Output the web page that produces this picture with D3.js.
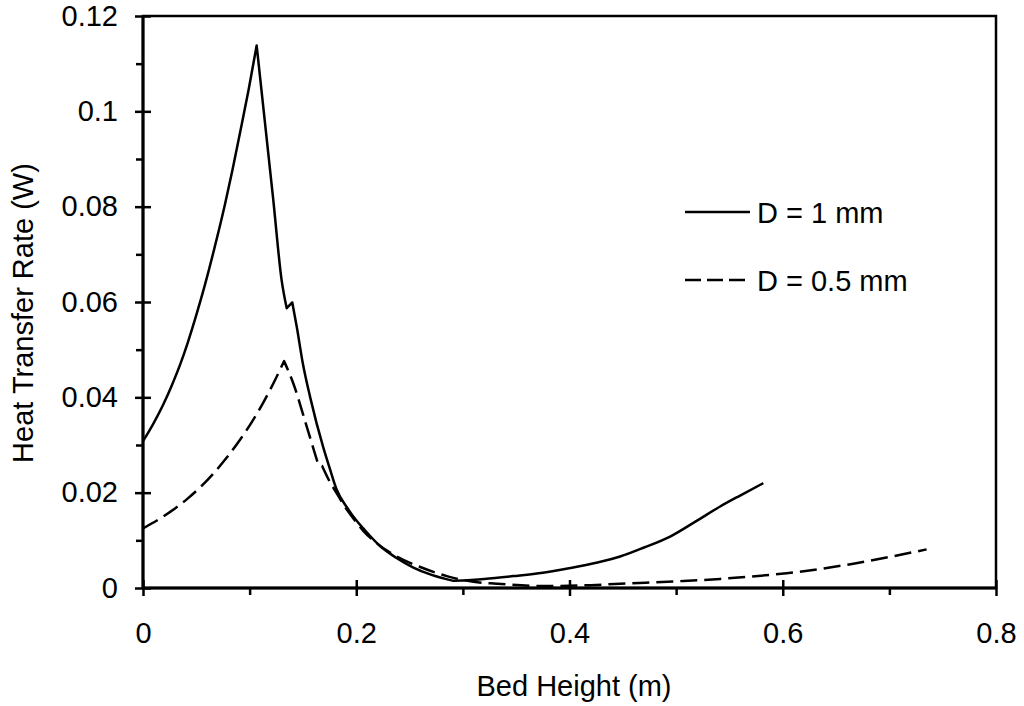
<!DOCTYPE html>
<html>
<head>
<meta charset="utf-8">
<script src="https://cdn.jsdelivr.net/npm/d3@7"></script>
<style>
  body { margin: 0; background: #fff; }
  svg { display: block; font-family: "Liberation Sans", Arial, sans-serif; }
  .axis text { font-size: 29px; fill: #000; }
  .axis line { stroke: #000; stroke-width: 2.5px; }
  .axis-title, .legend text { font-size: 29px; fill: #000; }
</style>
</head>
<body>
<svg id="chart"></svg>
<script>
// D = 1 mm curve
const bedHeight1 = [0, 0.01, 0.019, 0.027, 0.0347, 0.042, 0.0503, 0.0582, 0.067, 0.0769, 0.084, 0.091, 0.099, 0.1066,
  0.1222, 0.130, 0.1348, 0.140, 0.1442, 0.150, 0.1567, 0.1692, 0.175, 0.1817, 0.191, 0.2, 0.2066, 0.2223, 0.237,
  0.2536, 0.27, 0.2911, 0.32, 0.3474, 0.375, 0.4006, 0.425, 0.4475, 0.47, 0.4944, 0.52, 0.5413, 0.56, 0.5818];
const heatRate1 = [0.0308, 0.0346, 0.0385, 0.0425, 0.0468, 0.0515, 0.0575, 0.0637, 0.0713, 0.0805, 0.0878, 0.0955, 0.1045, 0.1138,
  0.0814, 0.0646, 0.0587, 0.0599, 0.0548, 0.0470, 0.0401, 0.0294, 0.0252, 0.0206, 0.0170, 0.0142, 0.0125, 0.0088, 0.0064,
  0.0043, 0.0028, 0.0015, 0.0019, 0.0025, 0.0032, 0.0042, 0.0053, 0.0066, 0.0085, 0.0108, 0.0142, 0.0171, 0.0194, 0.0220];
// bed heights where the D = 1 mm curve has a corner
const corners1 = [0.1066, 0.1348, 0.140, 0.2911];

// D = 0.5 mm curve
const bedHeight05 = [0, 0.019, 0.03, 0.041, 0.054, 0.066, 0.078, 0.091, 0.102, 0.1128, 0.122, 0.1323, 0.141, 0.1535,
  0.1645, 0.168, 0.1754, 0.18, 0.191, 0.2, 0.2066, 0.2192, 0.238, 0.26, 0.2849, 0.31, 0.3318, 0.3787, 0.42, 0.4475,
  0.5, 0.5413, 0.57, 0.6036, 0.635, 0.6662, 0.70, 0.7349];
const heatRate05 = [0.0125, 0.0150, 0.0167, 0.0186, 0.0212, 0.0240, 0.0272, 0.0311, 0.0348, 0.0389, 0.0428, 0.0476, 0.0429, 0.0339,
  0.0258, 0.0256, 0.0222, 0.0205, 0.0165, 0.0138, 0.0120, 0.0094, 0.0066, 0.0044, 0.0025, 0.0013, 0.0009, 0.0004, 0.0006, 0.0009,
  0.0014, 0.0019, 0.0024, 0.0031, 0.0040, 0.0051, 0.0065, 0.0081];
const corners05 = [0.1323, 0.1645, 0.168];

const seriesNames = ['D = 1 mm', 'D = 0.5 mm'];
const xTicks = [0, 0.2, 0.4, 0.6, 0.8];
const xMinorTicks = [0.1, 0.3, 0.5, 0.7];
const yTicks = [0, 0.02, 0.04, 0.06, 0.08, 0.1, 0.12];
const yMinorTicks = [0.01, 0.03, 0.05, 0.07, 0.09, 0.11];

const margin = { top: 16, right: 28, bottom: 118, left: 143 };
const containerWidth = 1024, containerHeight = 706;
const width = containerWidth - margin.left - margin.right;
const height = containerHeight - margin.top - margin.bottom;

const svg = d3.select('#chart')
  .attr('width', containerWidth)
  .attr('height', containerHeight);

const chart = svg.append('g')
  .attr('transform', `translate(${margin.left},${margin.top})`);

const xScale = d3.scaleLinear().domain([0, 0.8]).range([0, width]);
const yScale = d3.scaleLinear().domain([0, 0.12]).range([height, 0]);

// y axis: major ticks cross the axis, minor ticks outside only
chart.append('g').attr('class', 'axis')
  .call(d3.axisLeft(yScale).tickValues(yTicks).tickSize(8).tickPadding(17).tickFormat(d => d3.format('~g')(d)))
  .call(g => g.select('.domain').remove());
chart.append('g').attr('class', 'axis')
  .call(d3.axisRight(yScale).tickValues(yTicks).tickSize(8).tickFormat(''))
  .call(g => g.select('.domain').remove());
chart.append('g').attr('class', 'axis')
  .call(d3.axisLeft(yScale).tickValues(yMinorTicks).tickSize(7).tickFormat(''))
  .call(g => g.select('.domain').remove());

// x axis
chart.append('g').attr('class', 'axis')
  .attr('transform', `translate(0,${height})`)
  .call(d3.axisBottom(xScale).tickValues(xTicks).tickSize(8).tickPadding(26).tickFormat(d => d3.format('~g')(d)))
  .call(g => g.select('.domain').remove());
chart.append('g').attr('class', 'axis')
  .attr('transform', `translate(0,${height})`)
  .call(d3.axisTop(xScale).tickValues(xTicks).tickSize(8).tickFormat(''))
  .call(g => g.select('.domain').remove());
chart.append('g').attr('class', 'axis')
  .attr('transform', `translate(0,${height})`)
  .call(d3.axisBottom(xScale).tickValues(xMinorTicks).tickSize(7).tickFormat(''))
  .call(g => g.select('.domain').remove());

// plot frame
chart.append('rect')
  .attr('width', width)
  .attr('height', height)
  .attr('fill', 'none')
  .attr('stroke', '#000')
  .attr('stroke-width', 2.5);
chart.append('line')
  .attr('x1', 0).attr('x2', 0).attr('y1', 0).attr('y2', height)
  .attr('stroke', '#000').attr('stroke-width', 3);
chart.append('line')
  .attr('x1', 0).attr('x2', width).attr('y1', height).attr('y2', height)
  .attr('stroke', '#000').attr('stroke-width', 3);

// curves: smooth pieces, joined with sharp corners at the peaks / kinks
const line = d3.line()
  .x(d => xScale(d[0]))
  .y(d => yScale(d[1]))
  .curve(d3.curveMonotoneX);

function splitAt(points, corners) {
  const pieces = [];
  let current = [];
  points.forEach(p => {
    current.push(p);
    if (corners.includes(p[0])) {
      pieces.push(current);
      current = [p];
    }
  });
  if (current.length > 1) pieces.push(current);
  return pieces;
}

function piecewisePath(points, corners) {
  return splitAt(points, corners)
    .map((piece, i) => {
      const d = line(piece);
      return i === 0 ? d : 'L' + d.slice(1);
    })
    .join('');
}

const series = [
  { name: seriesNames[0], points: d3.zip(bedHeight1, heatRate1), corners: corners1, dash: null },
  { name: seriesNames[1], points: d3.zip(bedHeight05, heatRate05), corners: corners05, dash: '17,7' }
];

chart.selectAll('.curve')
  .data(series)
  .join('path')
  .attr('class', 'curve')
  .attr('d', d => piecewisePath(d.points, d.corners))
  .attr('fill', 'none')
  .attr('stroke', '#000')
  .attr('stroke-width', 2.5)
  .attr('stroke-linejoin', 'round')
  .attr('stroke-dasharray', d => d.dash);

// legend
const legend = svg.append('g').attr('class', 'legend');
const legendItems = legend.selectAll('g')
  .data(series)
  .join('g')
  .attr('transform', (d, i) => `translate(685,${212 + i * 68})`);
legendItems.append('line')
  .attr('x1', 0).attr('x2', 65)
  .attr('stroke', '#000')
  .attr('stroke-width', 2.5)
  .attr('stroke-dasharray', d => d.dash ? '16,6' : null);
legendItems.append('text')
  .attr('x', 72)
  .attr('y', 11)
  .text(d => d.name);

// axis titles
svg.append('text')
  .attr('class', 'axis-title')
  .attr('x', 574)
  .attr('y', 696)
  .attr('text-anchor', 'middle')
  .text('Bed Height (m)');

svg.append('text')
  .attr('class', 'axis-title')
  .attr('transform', 'translate(33,313) rotate(-90)')
  .attr('text-anchor', 'middle')
  .text('Heat Transfer Rate (W)');
</script>
</body>
</html>
